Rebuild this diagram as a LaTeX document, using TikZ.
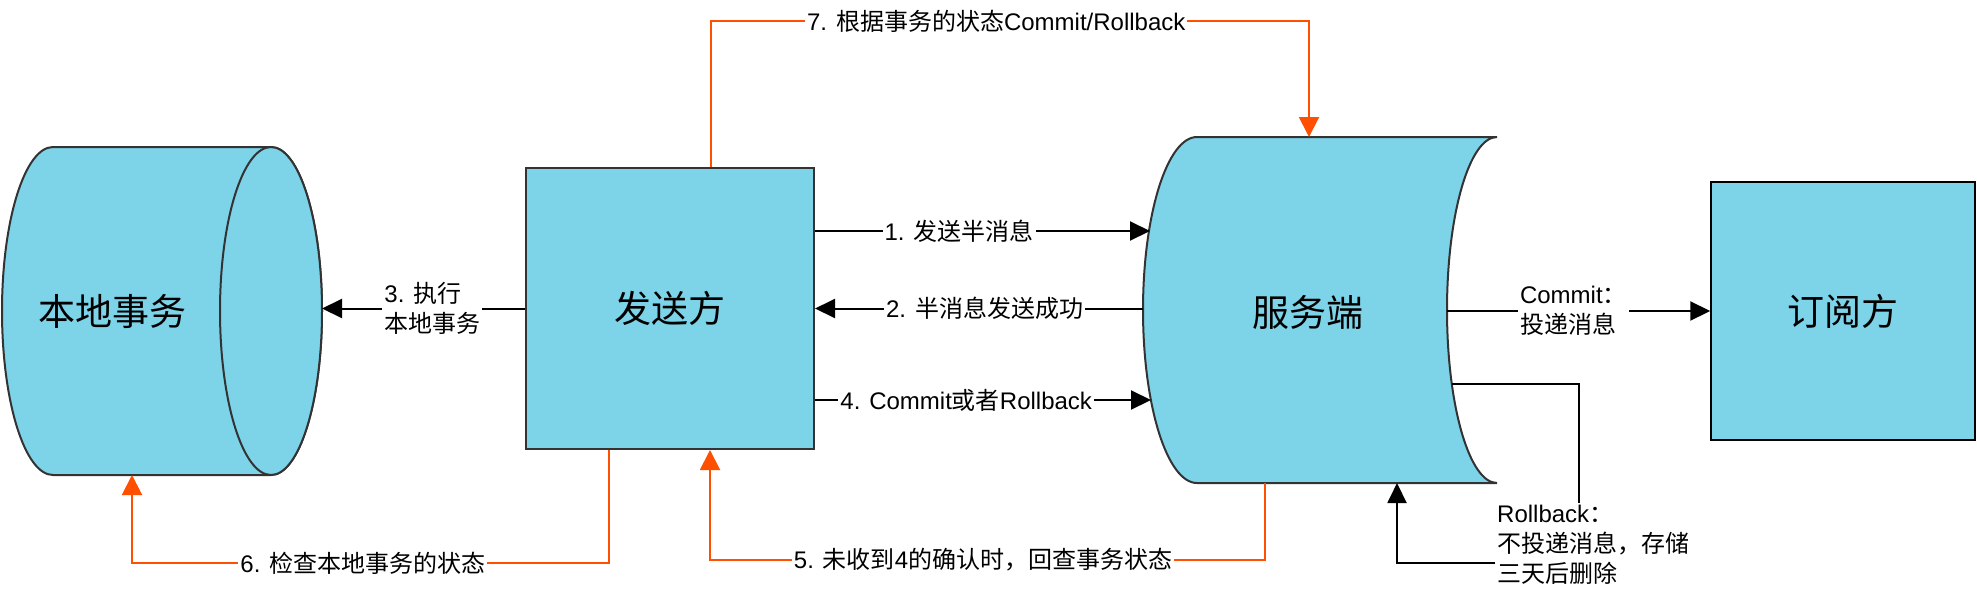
\documentclass[tikz,border=0pt]{standalone}
\usepackage{fontspec}
\setmainfont{Liberation Sans}
\newfontfamily\cjk{Noto Sans CJK SC}
\usetikzlibrary{arrows.meta}
\definecolor{boxfill}{HTML}{7DD3E8}
\definecolor{edgegray}{HTML}{333333}
\definecolor{orangeline}{HTML}{FF4F00}
\newcommand\zh[1]{{\cjk #1}}
\begin{document}
\begin{tikzpicture}[x=1pt,y=-1pt,
  shapeline/.style={draw=edgegray, line width=2pt, fill=boxfill},
  title/.style={font=\cjk\fontsize{37}{44}\selectfont, inner sep=0pt},
  lbl/.style={font=\fontsize{24}{30}\selectfont, fill=white, inner sep=2pt, text=black},
  blackarrow/.style={draw=black, line width=2pt, -{Triangle[length=20pt,width=19pt]}},
  orangearrow/.style={draw=orangeline, line width=2pt, -{Triangle[length=20pt,width=20pt]}},
]
\useasboundingbox (0,0) rectangle (1977,606);

% local transaction cylinder
\path[shapeline] (53,147) -- (271,147) arc[start angle=90, end angle=-90, x radius=51pt, y radius=164pt]
  -- (53,475) arc[start angle=270, end angle=90, x radius=51pt, y radius=164pt] -- cycle;
\draw[draw=edgegray, line width=2pt, fill=boxfill] (271,311) ellipse[x radius=51pt, y radius=164pt];
\node[title] (local) at (112,311) {本地事务};
\coordinate (localE) at (322,311);
\coordinate (localS) at (132,475);

% sender
\node[draw=edgegray, line width=2pt, fill=boxfill, minimum width=288pt, minimum height=281pt, title] (sender) at (670,308.5) {发送方};

% server (stored data shape)
\path[shapeline] (1197,137) -- (1497,137) arc[start angle=90, end angle=270, x radius=50pt, y radius=173pt]
  -- (1197,483) arc[start angle=270, end angle=90, x radius=54pt, y radius=173pt] -- cycle;
\node[title] (server) at (1308,312) {服务端};
\coordinate (srvA) at (1150,231);
\coordinate (srvB) at (1143,308.5);
\coordinate (srvC) at (1151,400);
\coordinate (srvR) at (1447,311);
\coordinate (srvR2) at (1452,384);
\coordinate (srvTop) at (1309,137);
\coordinate (srvBot) at (1265,483);
\coordinate (srvBot2) at (1397,483);

% subscriber
\node[draw=black, line width=1.5pt, fill=boxfill, minimum width=264pt, minimum height=258pt, title] (sub) at (1843,311) {订阅方};

% black connectors
\draw[blackarrow] ([yshift=77.5pt]sender.east) -- node[lbl, pos=0.43] {1. \zh{发送半消息}} (srvA);
\draw[blackarrow] (srvB) -- node[lbl, pos=0.483] {2. \zh{半消息发送成功}} (sender.east |- srvB);
\draw[blackarrow] (sender.west) -- node[lbl, pos=0.456, align=left] {3. \zh{执行}\\\zh{本地事务}} (sender.west -| localE);
\draw[blackarrow] ([yshift=-91.5pt]sender.east) -- node[lbl, pos=0.45] {4. Commit\zh{或者}Rollback} (srvC);
\draw[blackarrow] (srvR) -- node[lbl, pos=0.48, align=left] {Commit\zh{：}\\\zh{投递消息}} (sub.west);
\draw[blackarrow] (srvR2) -- (1579,384) -- (1579,563) -- (1397,563) -- (srvBot2);
\node[lbl, align=left, anchor=west] (rollback) at (1495,545) {Rollback\zh{：}\\\zh{不投递消息，存储}\\\zh{三天后删除}};

% orange connectors
\draw[orangearrow] ([xshift=41pt]sender.north) -- (711,21) -- node[lbl, pos=0.477] {7. \zh{根据事务的状态}Commit/Rollback} (1309,21) -- (srvTop);
\draw[orangearrow] ([xshift=-61pt]sender.south) -- (609,563) -- node[lbl, pos=0.516] {6. \zh{检查本地事务的状态}} (132,563) -- (localS);
\draw[orangearrow] (srvBot) -- (1265,560) -- node[lbl, pos=0.508] {5. \zh{未收到}4\zh{的确认时，回查事务状态}} (710,560) -- ([xshift=40pt]sender.south);
\end{tikzpicture}
\end{document}
